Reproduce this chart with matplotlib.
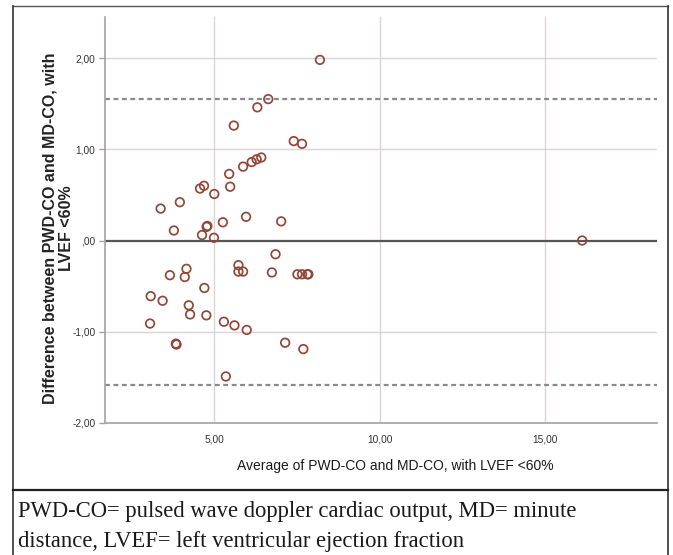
import matplotlib
matplotlib.use("Agg")
import matplotlib.pyplot as plt
from matplotlib.lines import Line2D
from matplotlib.ticker import FuncFormatter

# Data
x_avg = [8.20, 6.64, 6.31, 5.60, 7.41, 7.66, 6.43, 6.29, 6.14, 5.88,
         5.46, 4.70, 4.58, 5.49, 5.01, 3.97, 3.39, 5.97, 7.03, 5.27,
         4.80, 4.78, 3.79, 4.64, 5.00, 16.12, 6.86, 5.74, 5.74, 5.88,
         6.75, 7.52, 7.66, 7.85, 7.82, 4.17, 4.12, 3.67, 4.71, 3.09,
         3.45, 4.24, 4.28, 4.77, 3.07, 5.30, 5.62, 5.99, 3.85, 3.87,
         7.15, 7.70, 5.36]
y_diff = [1.98, 1.55, 1.46, 1.26, 1.09, 1.06, 0.91, 0.89, 0.86, 0.81,
          0.73, 0.60, 0.57, 0.59, 0.51, 0.42, 0.35, 0.26, 0.21, 0.20,
          0.16, 0.15, 0.11, 0.06, 0.03, 0.00, -0.15, -0.27, -0.34, -0.34,
          -0.35, -0.37, -0.37, -0.37, -0.37, -0.31, -0.40, -0.38, -0.52, -0.61,
          -0.66, -0.71, -0.81, -0.82, -0.91, -0.89, -0.93, -0.98, -1.13, -1.14,
          -1.12, -1.19, -1.49]
upper_loa = 1.55
lower_loa = -1.58
x_ticks = [5, 10, 15]
y_ticks = [-2, -1, 0, 1, 2]

W, H = 673, 555
fig = plt.figure(figsize=(W / 100, H / 100), dpi=100)
fig.patch.set_facecolor("white")

ax = fig.add_axes([105 / W, 1 - 423 / H, (657 - 105) / W, (423 - 17) / H])
ax.set_xlim(1.71, 18.38)
ax.set_ylim(-2.0, 2.45)

sans = ["Liberation Sans", "DejaVu Sans"]

# grid
for xv in x_ticks:
    ax.axvline(xv, color="#dcd4d4", lw=1.0, zorder=1)
for yv in y_ticks:
    if yv not in (0, -2):
        ax.axhline(yv, color="#dcd4d4", lw=1.0, zorder=1)

ax.axhline(0, color="#555555", lw=1.6, zorder=2)
ax.axhline(upper_loa, color="#8a8a8a", lw=1.6, ls=(0, (2.2, 1.6)), zorder=2)
ax.axhline(lower_loa, color="#8a8a8a", lw=1.6, ls=(0, (2.2, 1.6)), zorder=2)

ax.scatter(x_avg, y_diff, s=38, facecolors="none", edgecolors="#934737",
           linewidths=1.25, zorder=3)

for s in ("top", "right"):
    ax.spines[s].set_visible(False)
for s in ("left", "bottom"):
    ax.spines[s].set_color("#a8a0a0")
    ax.spines[s].set_linewidth(1.2)

fmt = FuncFormatter(lambda v, p: (",00" if abs(v) < 1e-9 else f"{v:.2f}".replace(".", ",")))
ax.set_xticks(x_ticks)
ax.set_yticks(y_ticks)
ax.xaxis.set_major_formatter(fmt)
ax.yaxis.set_major_formatter(fmt)
ax.tick_params(axis="x", length=0, labelsize=7.3, colors="#333333", pad=8)
ax.tick_params(axis="y", length=4, width=1.0, color="#a8a0a0", labelsize=7.3,
               labelcolor="#333333", pad=3)
for lab in ax.get_xticklabels() + ax.get_yticklabels():
    lab.set_family(sans)

ax.text((395 - 105) / 552, -(466 - 423) / 406, "Average of PWD-CO and MD-CO, with LVEF <60%",
        transform=ax.transAxes, ha="center", va="center", family=sans,
        fontsize=10, color="#1a1a1a")
fig.text(58 / W, 1 - 228 / H, "Difference between PWD-CO and MD-CO, with\nLVEF <60%",
         rotation=90, ha="center", va="center", fontsize=11.5, fontweight="bold",
         family=sans, color="#222222", linespacing=1.1)

# outer boxes
def fline(x0, y0, x1, y1, lw=1.2, c="#333333"):
    fig.add_artist(Line2D([x0 / W, x1 / W], [1 - y0 / H, 1 - y1 / H],
                          transform=fig.transFigure, color=c, lw=lw))

fline(13, 6, 668, 6, lw=1.0, c="#555555")
fline(13, 6, 13, 555, lw=1.2)
fline(668, 6, 668, 555, lw=1.2)
fline(13, 490, 668, 490, lw=1.6, c="#222222")

serif = ["Liberation Serif", "DejaVu Serif"]
fig.text(18 / W, 1 - 511 / H,
         "PWD-CO= pulsed wave doppler cardiac output, MD= minute",
         ha="left", va="center", fontsize=16.3, family=serif, color="#1a1a1a")
fig.text(18 / W, 1 - 541 / H,
         "distance, LVEF= left ventricular ejection fraction",
         ha="left", va="center", fontsize=16.3, family=serif, color="#1a1a1a")

fig.savefig("out.png", dpi=100)
